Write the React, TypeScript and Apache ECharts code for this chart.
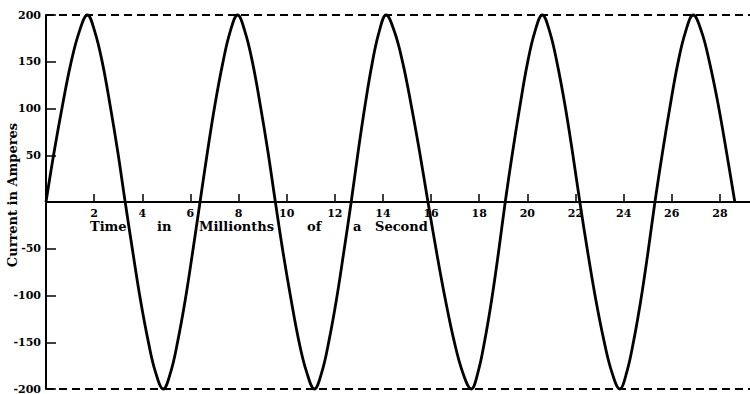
import React, { useEffect, useRef } from "react";
import * as echarts from "echarts";

// Time in millionths of a second
const times = [
  0, 0.34, 0.69, 1.03, 1.38, 1.72, 2.03, 2.35, 2.66, 2.98,
  3.29, 3.61, 3.92, 4.24, 4.55, 4.87, 5.18, 5.48, 5.79, 6.09,
  6.4, 6.71, 7.02, 7.34, 7.65, 7.96, 8.27, 8.59, 8.9, 9.22,
  9.53, 9.85, 10.18, 10.5, 10.83, 11.15, 11.46, 11.76, 12.07, 12.37,
  12.68, 12.97, 13.26, 13.55, 13.84, 14.13, 14.48, 14.83, 15.17, 15.52,
  15.87, 16.23, 16.59, 16.95, 17.31, 17.67, 17.95, 18.23, 18.52, 18.8,
  19.08, 19.39, 19.7, 20.0, 20.31, 20.62, 20.93, 21.24, 21.56, 21.87,
  22.18, 22.51, 22.84, 23.18, 23.51, 23.84, 24.13, 24.42, 24.72, 25.01,
  25.3, 25.62, 25.94, 26.25, 26.57, 26.89, 27.24, 27.58, 27.93, 28.27,
  28.62,
];

// Current in amperes
const current = [
  0, 54, 104, 148, 182, 200, 182, 148, 104, 54,
  0, -54, -104, -148, -182, -200, -182, -148, -104, -54,
  0, 54, 104, 148, 182, 200, 182, 148, 104, 54,
  0, -54, -104, -148, -182, -200, -182, -148, -104, -54,
  0, 54, 104, 148, 182, 200, 182, 148, 104, 54,
  0, -54, -104, -148, -182, -200, -182, -148, -104, -54,
  0, 54, 104, 148, 182, 200, 182, 148, 104, 54,
  0, -54, -104, -148, -182, -200, -182, -148, -104, -54,
  0, 54, 104, 148, 182, 200, 182, 148, 104, 54,
  0,
];

// Amplitude guide lines
const limits = [200, -200];

// Words of the time-axis caption, spread along the axis
const captionWords = [
  { text: "Time", x: 90 },
  { text: "in", x: 157 },
  { text: "Millionths", x: 199 },
  { text: "of", x: 307 },
  { text: "a", x: 353 },
  { text: "Second", x: 375 },
];

const FONT = "'DejaVu Serif', 'Liberation Serif', serif";
const GRID_TOP = 15;
const GRID_BOTTOM = 5;
const HEIGHT = 394;

export default function App() {
  const ref = useRef<HTMLDivElement>(null);

  useEffect(() => {
    document.body.style.margin = "0";
    const chart = echarts.init(ref.current!, null, { renderer: "svg" });
    const seriesData = times.map((t, i) => [t, current[i]]);
    // lift the time axis from the bottom edge up to the zero line
    const plotHeight = HEIGHT - GRID_TOP - GRID_BOTTOM;

    chart.setOption({
      animation: false,
      backgroundColor: "#fff",
      grid: {
        left: 46,
        right: 0,
        top: GRID_TOP,
        bottom: GRID_BOTTOM,
        outerBoundsMode: "none",
      },
      xAxis: {
        type: "value",
        min: 0,
        max: 29.25,
        interval: 2,
        position: "bottom",
        offset: -plotHeight / 2,
        axisLine: { onZero: false, lineStyle: { color: "#000", width: 2 } },
        axisTick: { inside: true, length: 8, lineStyle: { color: "#000", width: 1.5 } },
        axisLabel: {
          margin: 6,
          color: "#000",
          fontFamily: FONT,
          fontWeight: "bold",
          fontSize: 11,
          showMaxLabel: false,
          formatter: (v: number) => (v === 0 ? "" : String(v)),
        },
        splitLine: { show: false },
      },
      yAxis: {
        type: "value",
        min: -200,
        max: 200,
        interval: 50,
        axisLine: { lineStyle: { color: "#000", width: 2 } },
        axisTick: { inside: true, length: 10, lineStyle: { color: "#000", width: 1.5 } },
        axisLabel: {
          margin: 5,
          color: "#000",
          fontFamily: FONT,
          fontWeight: "bold",
          fontSize: 11,
          formatter: (v: number) => (v === 0 ? "" : String(v)),
        },
        splitLine: { show: false },
      },
      graphic: [
        {
          type: "text",
          x: 12,
          y: 195,
          rotation: Math.PI / 2,
          style: {
            text: "Current in Amperes",
            fill: "#000",
            font: `bold 13px ${FONT}`,
            textAlign: "center",
            textVerticalAlign: "middle",
          },
        },
        ...captionWords.map((w) => ({
          type: "text",
          left: w.x,
          top: 220,
          style: {
            text: w.text,
            fill: "#000",
            font: `bold 13px ${FONT}`,
          },
        })),
      ],
      series: [
        {
          type: "line",
          data: seriesData,
          showSymbol: false,
          smooth: 0.4,
          clip: false,
          lineStyle: { color: "#000", width: 2.8 },
          markLine: {
            silent: true,
            symbol: "none",
            label: { show: false },
            lineStyle: { color: "#000", width: 2, type: [8, 5] },
            data: limits.map((v) => ({ yAxis: v })),
          },
        },
      ],
    });

    return () => chart.dispose();
  }, []);

  return (
    <div
      ref={ref}
      style={{ position: "fixed", left: 0, top: 0, width: 750, height: 394 }}
    />
  );
}
